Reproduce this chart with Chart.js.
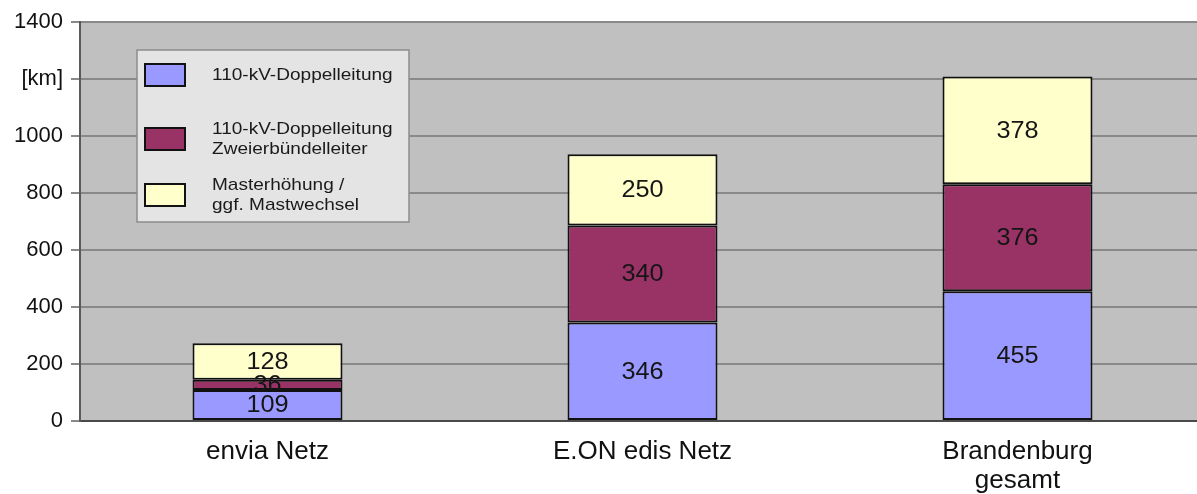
<!DOCTYPE html>
<html>
<head>
<meta charset="utf-8">
<script src="https://cdn.jsdelivr.net/npm/chart.js@4.4.1/dist/chart.umd.min.js"></script>
<style>
  html, body { margin: 0; padding: 0; background: #fff; overflow: hidden; }
  #wrap { position: relative; width: 1210px; height: 494px; }
</style>
</head>
<body>
<div id="wrap"><canvas id="c"></canvas></div>
<script>
// ---- data ----
const categories = ['envia Netz', 'E.ON edis Netz', ['Brandenburg', 'gesamt']];
const seriesLabels = ['110-kV-Doppelleitung', '110-kV-Doppelleitung\nZweierbündelleiter', 'Masterhöhung /\nggf. Mastwechsel'];
const doppelleitung = [109, 346, 455];
const zweierbuendel = [36, 340, 376];
const masterhoehung = [128, 250, 378];
const yTickLabels = ['0', '200', '400', '600', '800', '1000', '[km]', '1400'];
const seriesColors = ['#9999FF', '#993366', '#FFFFCC'];

const FONT = '"Liberation Sans", Arial, sans-serif';

const bgPlugin = {
  id: 'plotBg',
  beforeDraw(chart) {
    const { ctx, chartArea: a } = chart;
    ctx.save();
    ctx.fillStyle = '#C0C0C0';
    ctx.fillRect(a.left, a.top, a.right - a.left, a.bottom - a.top);
    ctx.restore();
  }
};

const labelPlugin = {
  id: 'segLabels',
  afterDatasetsDraw(chart) {
    const { ctx } = chart;
    ctx.save();
    ctx.font = '23px ' + FONT;
    ctx.fillStyle = '#151515';
    ctx.textAlign = 'center';
    ctx.textBaseline = 'middle';
    chart.data.datasets.forEach((ds, di) => {
      const meta = chart.getDatasetMeta(di);
      meta.data.forEach((el, i) => {
        const yc = (el.y + el.base) / 2;
        ctx.save();
        ctx.translate(el.x, yc + 1);
        ctx.scale(1.1, 1);
        ctx.fillText(String(ds.data[i]), 0, 0);
        ctx.restore();
      });
    });
    ctx.restore();
  }
};

const legendPlugin = {
  id: 'boxLegend',
  afterDraw(chart) {
    const { ctx, chartArea: a } = chart;
    const x0 = a.left + 57, y0 = a.top + 28, w = 272, h = 172;
    ctx.save();
    ctx.fillStyle = '#E4E4E4';
    ctx.fillRect(x0, y0, w, h);
    ctx.strokeStyle = '#8c8c8c';
    ctx.lineWidth = 1.5;
    ctx.strokeRect(x0, y0, w, h);
    const swatchTops = [14, 78, 134];
    ctx.font = '17px ' + FONT;
    ctx.textAlign = 'left';
    ctx.textBaseline = 'middle';
    chart.data.datasets.forEach((ds, di) => {
      const sy = y0 + swatchTops[di];
      ctx.fillStyle = ds.backgroundColor;
      ctx.fillRect(x0 + 8, sy, 40, 22);
      ctx.strokeStyle = '#111';
      ctx.lineWidth = 2;
      ctx.strokeRect(x0 + 8, sy, 40, 22);
      const lines = ds.label.split('\n');
      ctx.fillStyle = '#1a1a1a';
      const lh = 20;
      const cy = sy + 11 - (lines.length - 1) * lh / 2;
      lines.forEach((ln, k) => {
        ctx.save();
        ctx.translate(x0 + 75, cy + k * lh);
        ctx.scale(1.12, 1);
        ctx.fillText(ln, 0, 0);
        ctx.restore();
      });
    });
    ctx.restore();
  }
};

new Chart(document.getElementById('c'), {
  type: 'bar',
  data: {
    labels: categories,
    datasets: [
      { label: seriesLabels[0], data: doppelleitung, backgroundColor: seriesColors[0] },
      { label: seriesLabels[1], data: zweierbuendel, backgroundColor: seriesColors[1] },
      { label: seriesLabels[2], data: masterhoehung, backgroundColor: seriesColors[2] }
    ].map(d => Object.assign(d, {
      borderColor: '#111', borderWidth: 2, borderSkipped: false,
      barPercentage: 0.4, categoryPercentage: 1.0
    }))
  },
  options: {
    responsive: true,
    maintainAspectRatio: false,
    animation: false,
    layout: { padding: { top: 22, right: 5, left: 0, bottom: 0 } },
    plugins: { legend: { display: false }, tooltip: { enabled: false } },
    scales: {
      x: {
        stacked: true,
        grid: { display: false, drawTicks: false },
        border: { display: true, color: '#4a4a4a', width: 2 },
        ticks: { color: '#111', font: { family: FONT, size: 26, lineHeight: 1.1 }, padding: 17, maxRotation: 0 },
        afterFit(s) { s.height = 73; }
      },
      y: {
        stacked: true,
        min: 0, max: 1400,
        grid: { color: '#898989', lineWidth: 2, tickLength: 9, tickColor: '#8a8a8a' },
        border: { display: true, color: '#5a5a5a', width: 2 },
        ticks: {
          stepSize: 200,
          color: '#111',
          font: { family: FONT, size: 22 },
          padding: 8,
          callback: (v, i) => yTickLabels[i]
        },
        afterFit(s) { s.width = 80; }
      }
    }
  },
  plugins: [bgPlugin, labelPlugin, legendPlugin]
});
</script>
</body>
</html>
